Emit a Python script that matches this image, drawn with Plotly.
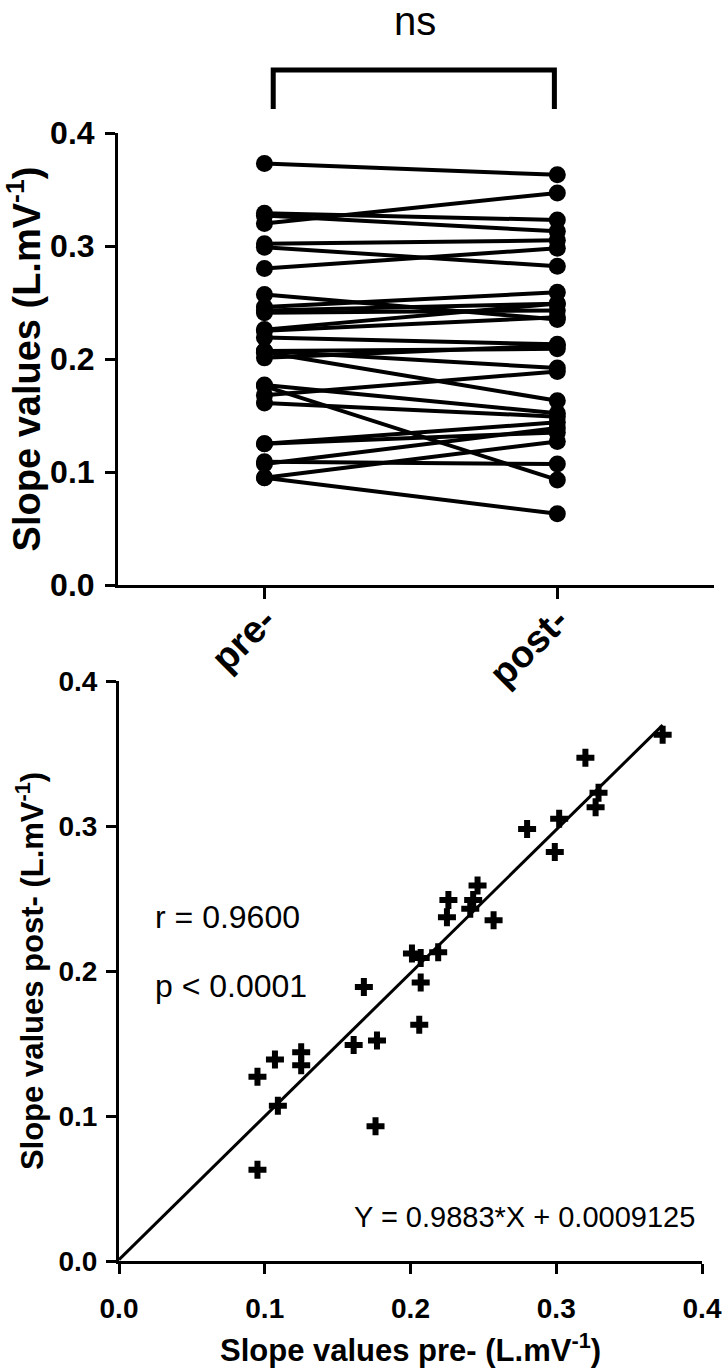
import plotly.graph_objects as go

# ---- data ----
categories = ["pre-", "post-"]
pre_values = [0.373, 0.320, 0.329, 0.327, 0.302, 0.299, 0.280, 0.246, 0.243, 0.241,
              0.257, 0.226, 0.225, 0.219, 0.201, 0.207, 0.207, 0.206, 0.168, 0.177,
              0.161, 0.176, 0.125, 0.125, 0.107, 0.109, 0.095, 0.095]
post_values = [0.363, 0.347, 0.323, 0.313, 0.305, 0.282, 0.298, 0.259, 0.249, 0.243,
               0.235, 0.249, 0.237, 0.213, 0.212, 0.209, 0.192, 0.163, 0.189, 0.152,
               0.149, 0.093, 0.144, 0.135, 0.139, 0.107, 0.127, 0.063]
y_ticks = [0.0, 0.1, 0.2, 0.3, 0.4]
fit_slope = 0.9883
fit_intercept = 0.0009125
r_text = "r = 0.9600"
p_text = "p < 0.0001"
eq_text = "Y = 0.9883*X + 0.0009125"
sig_text = "ns"

W, H = 722, 1368
FONT = "Liberation Sans, Arial, Helvetica, sans-serif"
BLACK = "black"

def py(px):
    return 1 - px / H

def pxx(px):
    return px / W

fig = go.Figure()

# paired lines (top panel)
for a, b in zip(pre_values, post_values):
    fig.add_trace(go.Scatter(
        x=categories, y=[a, b], mode="lines+markers",
        line=dict(color=BLACK, width=4),
        marker=dict(color=BLACK, size=17, symbol="circle"),
        xaxis="x", yaxis="y", showlegend=False, hoverinfo="skip"))

# scatter (bottom panel)
fig.add_trace(go.Scatter(
    x=pre_values, y=post_values, mode="markers",
    marker=dict(color=BLACK, size=15, symbol="cross", line=dict(width=0)),
    xaxis="x2", yaxis="y2", showlegend=False))

xmax = max(pre_values)
fig.add_trace(go.Scatter(
    x=[0, xmax], y=[fit_intercept, fit_slope * xmax + fit_intercept],
    mode="lines", line=dict(color=BLACK, width=3),
    xaxis="x2", yaxis="y2", showlegend=False))

top_tick_font = dict(family=FONT, size=32, color=BLACK, weight="bold")
bot_tick_font = dict(family=FONT, size=28, color=BLACK, weight="bold")

fig.update_layout(
    width=W, height=H,
    margin=dict(l=0, r=0, t=0, b=0),
    paper_bgcolor="white", plot_bgcolor="white",
    xaxis=dict(domain=[pxx(118), pxx(714)], type="category",
               range=[-0.5, 1.535], showline=True, linecolor=BLACK, linewidth=3,
               ticks="outside", ticklen=11, tickwidth=3, tickcolor=BLACK,
               tickangle=-45, tickfont=dict(family=FONT, size=38, color=BLACK, weight="bold"),
               ticklabelstandoff=-16,
               showgrid=False, zeroline=False, anchor="y", automargin=False),
    yaxis=dict(domain=[py(585), py(133)], range=[0, 0.4], tickvals=y_ticks,
               tickformat=".1f", showline=True, linecolor=BLACK, linewidth=3,
               ticks="outside", ticklen=10, tickwidth=3, tickcolor=BLACK,
               tickfont=top_tick_font, ticklabelstandoff=4,
               showgrid=False, zeroline=False, anchor="x",
               title=dict(text="Slope values (L.mV<sup>-1</sup>)",
                          font=dict(family=FONT, size=38, color=BLACK, weight="bold"),
                          standoff=6),
               automargin=False),
    xaxis2=dict(domain=[pxx(119), pxx(702)], range=[0, 0.4], tickvals=y_ticks,
                tickformat=".1f", showline=True, linecolor=BLACK, linewidth=3,
                ticks="outside", ticklen=10, tickwidth=3, tickcolor=BLACK,
                tickfont=bot_tick_font, ticklabelstandoff=10,
                showgrid=False, zeroline=False, anchor="y2",
                title=dict(text="Slope values pre- (L.mV<sup>-1</sup>)",
                           font=dict(family=FONT, size=31, color=BLACK, weight="bold"),
                           standoff=20),
                automargin=False),
    yaxis2=dict(domain=[py(1261), py(681)], range=[0, 0.4], tickvals=y_ticks,
                tickformat=".1f", showline=True, linecolor=BLACK, linewidth=3,
                ticks="outside", ticklen=10, tickwidth=3, tickcolor=BLACK,
                tickfont=bot_tick_font, ticklabelstandoff=3,
                showgrid=False, zeroline=False, anchor="x2",
                title=dict(text="Slope values post- (L.mV<sup>-1</sup>)",
                           font=dict(family=FONT, size=31, color=BLACK, weight="bold"),
                           standoff=6),
                automargin=False),
)

# significance bracket
bx0, bx1 = 0.03, 0.99
fig.add_shape(type="path", xref="x", yref="paper",
              path=f"M {bx0} {py(109)} L {bx0} {py(70)} L {bx1} {py(70)} L {bx1} {py(109)}",
              line=dict(color=BLACK, width=5))
fig.add_annotation(x=pxx(415), y=py(21), xref="paper", yref="paper", text=sig_text,
                   showarrow=False, font=dict(family=FONT, size=40, color=BLACK),
                   xanchor="center", yanchor="middle")

fig.add_annotation(x=pxx(153), y=py(917), xref="paper", yref="paper", text=r_text,
                   showarrow=False, font=dict(family=FONT, size=32, color=BLACK),
                   xanchor="left", yanchor="middle")
fig.add_annotation(x=pxx(153), y=py(986), xref="paper", yref="paper", text=p_text,
                   showarrow=False, font=dict(family=FONT, size=32, color=BLACK),
                   xanchor="left", yanchor="middle")
fig.add_annotation(x=pxx(697), y=py(1217), xref="paper", yref="paper", text=eq_text,
                   showarrow=False, font=dict(family=FONT, size=29, color=BLACK),
                   xanchor="right", yanchor="middle")

fig.write_html("out.html",
               config={"displayModeBar": False},
               post_script="document.body.style.margin='0';document.body.style.overflow='hidden';")
